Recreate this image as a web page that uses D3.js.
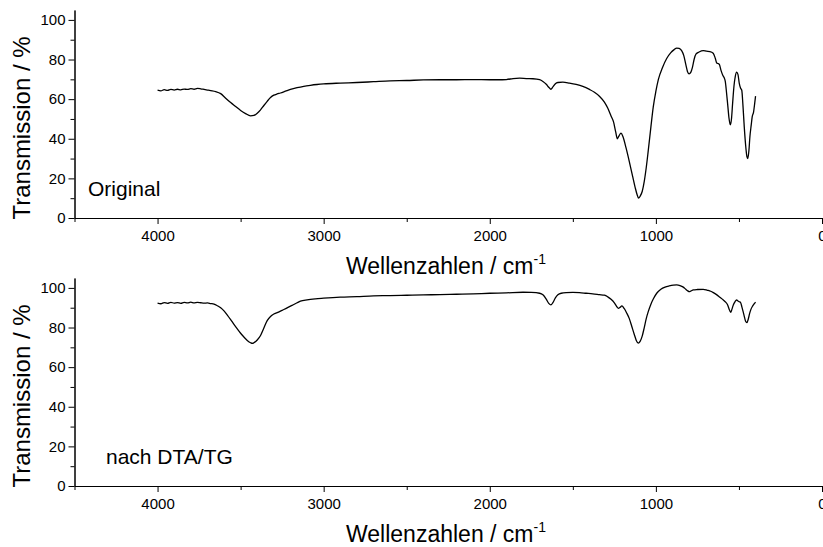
<!DOCTYPE html>
<html>
<head>
<meta charset="utf-8">
<script src="https://cdn.jsdelivr.net/npm/d3@7"></script>
<style>
	body{margin:0;background:#fff}
	svg{display:block;font-family:"Liberation Sans",Arial,sans-serif}
</style>
</head>
<body>
<svg id="chart" width="823" height="547"></svg>
<script>
// IR spectra, wavenumber (cm-1) descending
const origWn = [4000,3980,3960,3940,3920,3900,3880,3860,3840,3820,3800,3780,3760,3740,3720,3700,3680,3650,3620,3590,3560,3530,3500,3470,3440,3420,3400,3380,3360,3340,3320,3300,3280,3260,3230,3200,3160,3120,3080,3040,3000,2900,2800,2700,2600,2500,2400,2300,2200,2100,2000,1950,1900,1860,1820,1780,1740,1700,1680,1660,1645,1632,1620,1605,1590,1560,1520,1480,1440,1400,1370,1340,1310,1290,1270,1255,1242,1232,1222,1210,1198,1180,1160,1140,1125,1112,1104,1095,1082,1070,1058,1046,1030,1016,1000,985,960,935,910,890,875,860,845,832,820,810,800,790,780,770,758,740,715,695,675,655,642,634,626,618,608,598,590,582,575,568,560,552,545,538,530,522,514,506,498,490,483,476,468,460,452,447,440,434,426,420,412,405,400]
const origT = [64.5,64.2,64.8,64.4,64.9,64.6,65.0,64.7,65.1,64.9,65.3,65.0,65.4,65.2,64.9,64.6,64.3,63.8,62.8,60.5,58.3,56.3,54.3,52.7,51.6,51.8,52.9,54.6,56.8,58.9,60.8,62.0,62.6,63.1,64.0,64.9,65.8,66.5,67.0,67.4,67.7,68.1,68.4,68.8,69.2,69.4,69.7,69.8,69.8,69.9,69.8,69.8,69.9,70.4,70.6,70.4,70.3,69.8,68.9,67.5,66.0,65.0,66.2,67.8,68.4,68.6,68.1,67.4,66.4,64.9,63.5,61.5,58.5,55.5,51.5,48.5,43.5,40.0,41.5,42.8,41.0,35.5,28.5,21.0,15.5,11.5,10.0,11.0,13.5,18.5,25.5,34.0,46.0,56.0,64.0,70.0,76.0,80.5,83.5,85.0,85.8,85.6,84.5,82.0,77.5,74.0,72.8,73.5,76.0,80.0,82.8,83.8,84.5,84.2,84.0,83.2,80.5,78.3,78.0,77.5,74.5,72.2,71.0,68.8,63.5,57.5,50.5,47.0,50.0,58.0,66.5,71.5,73.6,72.5,68.0,65.5,64.5,57.0,46.0,37.0,31.0,30.0,34.0,41.0,47.0,51.2,53.5,58.0,61.5]

const dtaWn = [4000,3980,3960,3940,3920,3900,3880,3860,3840,3820,3800,3780,3760,3740,3720,3700,3680,3660,3640,3620,3600,3580,3560,3540,3520,3500,3480,3460,3440,3430,3420,3400,3380,3360,3340,3320,3300,3280,3250,3220,3190,3160,3140,3100,3050,3000,2900,2800,2700,2600,2500,2400,2300,2200,2100,2000,1900,1800,1750,1700,1680,1660,1645,1632,1620,1605,1590,1570,1540,1500,1460,1420,1380,1340,1310,1290,1270,1250,1235,1226,1215,1205,1190,1175,1160,1145,1130,1118,1106,1095,1082,1070,1058,1046,1030,1015,995,970,945,920,895,875,855,835,820,808,799,788,775,750,715,690,670,654,635,615,594,580,568,560,550,542,534,524,514,506,498,490,482,470,460,452,444,436,429,418,408,400]
const dtaT = [92.3,92.0,92.6,92.2,92.7,92.3,92.6,92.2,92.7,92.4,92.8,92.4,92.7,92.5,92.3,92.4,92.1,91.8,91.0,90.0,88.4,86.3,84.0,81.6,79.3,77.1,75.2,73.5,72.3,72.0,72.3,73.7,76.0,79.8,83.5,85.6,86.8,87.5,88.7,89.9,91.2,92.5,93.3,94.0,94.5,94.8,95.3,95.6,96.0,96.1,96.3,96.5,96.6,96.8,97.0,97.3,97.5,97.8,97.7,97.3,96.5,94.3,92.2,91.4,92.6,95.0,96.5,97.3,97.6,97.7,97.6,97.3,97.0,96.6,96.3,95.5,94.3,92.5,90.5,89.7,90.2,90.9,89.5,87.2,84.5,80.5,76.5,73.5,72.1,73.0,75.8,80.0,84.5,88.0,91.8,94.5,97.3,99.3,100.4,101.0,101.4,101.5,101.2,100.4,99.3,98.5,98.1,98.5,99.0,99.2,99.3,98.8,98.3,97.6,96.6,95.3,93.9,92.8,91.4,89.5,87.7,89.3,91.4,93.0,93.9,93.4,93.0,92.6,90.3,86.4,83.2,82.5,84.2,87.0,88.9,90.8,92.0,92.8]

const xMajor = [4000,3000,2000,1000,0]
const xMinor = [4500,3500,2500,1500,500]
const yMajor = [0,20,40,60,80,100]
const yMinor = [10,30,50,70,90]

const svg = d3.select("#chart")
const x = d3.scaleLinear().domain([4500,0]).range([74.5,822])

function drawPanel(wn, tr, top, bottom, name, nameX){
	let y = d3.scaleLinear().domain([0,105]).range([bottom,top])
	let g = svg.append("g")

	// minor ticks first, no labels
	g.append("g")
	  .attr("transform", `translate(0,${bottom})`)
	  .call(d3.axisBottom(x).tickValues(xMinor).tickSize(4).tickSizeOuter(0).tickFormat(""))
	g.append("g")
	  .attr("transform", `translate(74.5,0)`)
	  .call(d3.axisLeft(y).tickValues(yMinor).tickSize(4).tickSizeOuter(0).tickFormat(""))

	let xa = g.append("g")
	  .attr("transform", `translate(0,${bottom})`)
	  .call(d3.axisBottom(x).tickValues(xMajor).tickSize(6).tickSizeOuter(0).tickPadding(6).tickFormat(d3.format("d")))
	let ya = g.append("g")
	  .attr("transform", `translate(74.5,0)`)
	  .call(d3.axisLeft(y).tickValues(yMajor).tickSize(6).tickSizeOuter(0).tickPadding(3).tickFormat(d3.format("d")))
	g.selectAll(".tick text").attr("font-size", 15).attr("fill", "#000").style("font-family", "Liberation Sans, Arial, sans-serif")
	g.selectAll(".domain, .tick line").attr("stroke", "#000")

	let line = d3.line()
	  .x((d,i)=>x(wn[i]))
	  .y(d=>y(d))
	  .curve(d3.curveMonotoneX)
	g.append("path")
	  .datum(tr)
	  .attr("fill", "none")
	  .attr("stroke", "#000")
	  .attr("stroke-width", 1.3)
	  .attr("d", line)

	g.append("text")
	  .attr("transform", `translate(30,${bottom-90}) rotate(-90)`)
	  .attr("text-anchor", "middle")
	  .attr("font-size", 24)
	  .text("Transmission / %")

	let xl = g.append("text")
	  .attr("x", 446)
	  .attr("y", bottom+56)
	  .attr("text-anchor", "middle")
	  .attr("font-size", 23)
	xl.append("tspan").text("Wellenzahlen / cm")
	xl.append("tspan").attr("dy", -10).attr("font-size", 14).text("-1")

	g.append("text")
	  .attr("x", nameX)
	  .attr("y", bottom-22)
	  .attr("font-size", 21)
	  .text(name)
}

drawPanel(origWn, origT, 10, 218, "Original", 88)
drawPanel(dtaWn, dtaT, 278, 486, "nach DTA/TG", 106)
</script>
</body>
</html>
